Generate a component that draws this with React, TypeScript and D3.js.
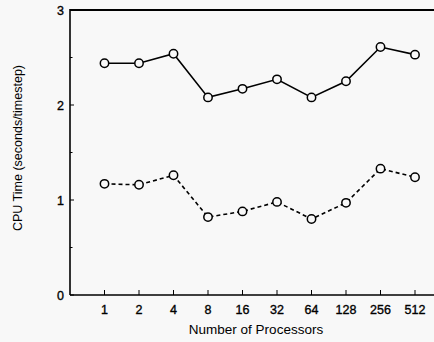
import { useEffect, useRef } from "react";
import * as d3 from "d3";

const PROCESSORS = ["1", "2", "4", "8", "16", "32", "64", "128", "256", "512"];
const SOLID_TIMES = [2.44, 2.44, 2.54, 2.08, 2.17, 2.27, 2.08, 2.25, 2.61, 2.53];
const DASHED_TIMES = [1.17, 1.16, 1.26, 0.82, 0.88, 0.98, 0.8, 0.97, 1.33, 1.24];
const Y_TICKS = [0, 1, 2, 3];
const Y_MINOR = [0.5, 1.5, 2.5];

const W = 434;
const H = 342;
const LEFT = 70;
const TOP = 10;
const BOTTOM = 295;
const FONT = "Liberation Sans, Arial, sans-serif";

function drawChart(svgEl: SVGSVGElement) {
  const svg = d3.select(svgEl);
  svg.selectAll("*").remove();

  svg.append("rect").attr("width", W).attr("height", H).attr("fill", "#f8f8f8");

  // log2 index on x: 1 -> 0, 512 -> 9
  const x = d3.scaleLinear().domain([-1, 10]).range([LEFT, 449.5]);
  const y = d3.scaleLinear().domain([0, 3]).range([BOTTOM, TOP]);

  const g = svg.append("g");

  // frame
  g.append("line")
    .attr("x1", LEFT).attr("x2", W).attr("y1", TOP).attr("y2", TOP)
    .attr("stroke", "#000").attr("stroke-width", 2);
  g.append("line")
    .attr("x1", LEFT).attr("x2", LEFT).attr("y1", TOP - 1).attr("y2", BOTTOM)
    .attr("stroke", "#000").attr("stroke-width", 1.6);
  g.append("line")
    .attr("x1", LEFT).attr("x2", W).attr("y1", BOTTOM).attr("y2", BOTTOM)
    .attr("stroke", "#000").attr("stroke-width", 1.6);

  // y ticks
  Y_TICKS.forEach((v) => {
    g.append("line")
      .attr("x1", LEFT).attr("x2", LEFT + 4)
      .attr("y1", y(v)).attr("y2", y(v))
      .attr("stroke", "#000").attr("stroke-width", 1);
    g.append("text")
      .attr("x", LEFT - 6).attr("y", y(v)).attr("dy", "0.36em")
      .attr("text-anchor", "end")
      .attr("font-family", FONT).attr("font-size", 12.5)
      .attr("stroke", "#000").attr("stroke-width", 0.35)
      .text(v);
  });
  Y_MINOR.forEach((v) => {
    g.append("line")
      .attr("x1", LEFT).attr("x2", LEFT + 2.5)
      .attr("y1", y(v)).attr("y2", y(v))
      .attr("stroke", "#000").attr("stroke-width", 1);
  });

  // x ticks
  PROCESSORS.forEach((p, i) => {
    g.append("line")
      .attr("x1", x(i)).attr("x2", x(i))
      .attr("y1", BOTTOM).attr("y2", BOTTOM - 5)
      .attr("stroke", "#000").attr("stroke-width", 1);
    g.append("text")
      .attr("x", x(i)).attr("y", BOTTOM + 19)
      .attr("text-anchor", "middle")
      .attr("font-family", FONT).attr("font-size", 12.5)
      .attr("stroke", "#000").attr("stroke-width", 0.35)
      .text(p);
  });

  // axis titles
  g.append("text")
    .attr("x", 256).attr("y", 334)
    .attr("text-anchor", "middle")
    .attr("font-family", FONT).attr("font-size", 13.5)
    .text("Number of Processors");
  g.append("text")
    .attr("transform", `translate(22,148) rotate(-90)`)
    .attr("text-anchor", "middle")
    .attr("font-family", FONT).attr("font-size", 12.5)
    .text("CPU Time (seconds/timestep)");

  const line = d3
    .line<number>()
    .x((_d, i) => x(i))
    .y((d) => y(d));

  const series = [
    { values: SOLID_TIMES, dash: null },
    { values: DASHED_TIMES, dash: "4,3" },
  ];

  series.forEach((s) => {
    g.append("path")
      .datum(s.values)
      .attr("fill", "none")
      .attr("stroke", "#000")
      .attr("stroke-width", 1.6)
      .attr("stroke-dasharray", s.dash)
      .attr("d", line);
    g.selectAll(null)
      .data(s.values)
      .enter()
      .append("circle")
      .attr("cx", (_d, i) => x(i))
      .attr("cy", (d) => y(d))
      .attr("r", 4.2)
      .attr("fill", "#f8f8f8")
      .attr("stroke", "#000")
      .attr("stroke-width", 1.5);
  });
}

export default function App() {
  const ref = useRef<SVGSVGElement>(null);

  useEffect(() => {
    if (ref.current) drawChart(ref.current);
  }, []);

  return (
    <svg
      ref={ref}
      width={W}
      height={H}
      style={{ position: "fixed", left: 0, top: 0, display: "block" }}
    />
  );
}
